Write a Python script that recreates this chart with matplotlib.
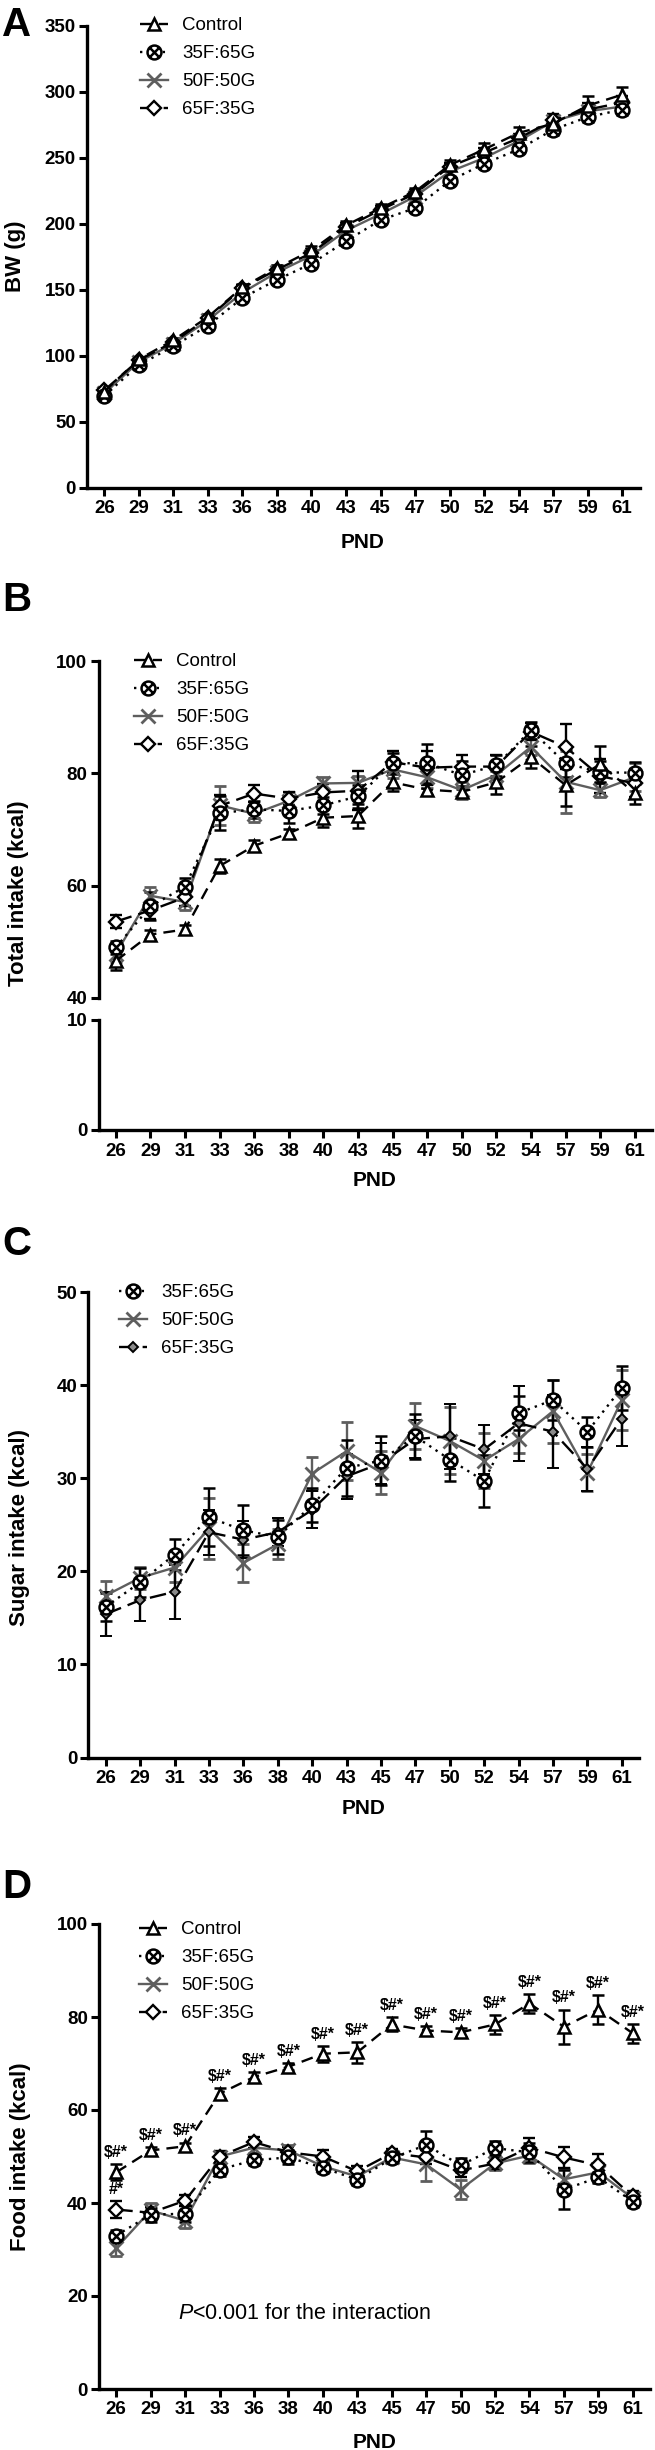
import numpy as np
import matplotlib
matplotlib.use('Agg')
import matplotlib.pyplot as plt
from matplotlib.path import Path
from matplotlib.lines import Line2D

plt.rcParams['font.family'] = ['Liberation Sans', 'DejaVu Sans']
plt.rcParams['mathtext.fontset'] = 'custom'
plt.rcParams['mathtext.it'] = 'Liberation Sans:italic'
plt.rcParams['mathtext.rm'] = 'Liberation Sans'

# ---------------- data ----------------
pnd = ['26', '29', '31', '33', '36', '38', '40', '43', '45', '47', '50', '52', '54', '57', '59', '61']
groups = ['Control', '35F:65G', '50F:50G', '65F:35G']

# A: body weight (g)
bw_ctrl = [73, 97.5, 112, 129.5, 152, 166.7, 180, 199, 212, 224.5, 244.6, 256.5, 269, 276, 289.7, 298]
bw_35 = [70, 93, 107.4, 123, 144, 157.7, 170, 187, 203, 212, 232.6, 245.7, 256.5, 271.5, 281, 286.7]
bw_50 = [71.7, 95.5, 109.4, 127, 148, 163.4, 176, 195, 207.5, 220.8, 239.6, 250, 262.8, 277.8, 285.4, 289]
bw_65 = [74, 96.8, 110.6, 128.7, 151.4, 165.5, 178, 197.4, 210.7, 223, 243.4, 254, 265, 278.6, 286.7, 292]
e_bw_ctrl = [2, 2, 2, 2.5, 2.5, 2.5, 3, 3, 3, 3, 3.8, 4.5, 4.3, 4.5, 7, 5.8]
e_bw_35 = [2, 2, 2, 2.5, 2.5, 2.5, 3, 3, 3, 3, 3, 3, 3, 4, 4, 4.5]
e_bw_50 = [2, 2, 2, 2.5, 2.5, 2.5, 3, 3, 3, 3, 3, 3.5, 3.5, 4, 4, 4]
e_bw_65 = [2, 2, 2, 2.5, 2.5, 2.5, 3, 3, 3, 3, 3, 3.5, 3.5, 5, 5, 5]

# D: food intake (kcal)
food_ctrl = [46.6, 51.3, 52.2, 63.5, 67.1, 69.3, 72.1, 72.4, 78.4, 77.1, 76.7, 78.4, 82.9, 77.9, 81.6, 76.5]
food_35 = [33.0, 37.5, 37.7, 47.2, 49.2, 49.8, 47.6, 45.0, 49.6, 52.5, 48.1, 51.8, 50.9, 42.9, 45.5, 40.3]
food_50 = [30.3, 38.4, 36.2, 50.0, 51.9, 51.3, 47.9, 45.7, 49.8, 48.3, 42.9, 48.5, 50.2, 45.1, 46.6, 41.0]
food_65 = [38.6, 37.9, 40.5, 50.0, 53.1, 50.9, 50.0, 46.8, 50.7, 49.8, 47.0, 48.5, 51.9, 49.8, 48.1, 41.4]
e_food_ctrl = [1.7, 0.8, 0.8, 1.2, 1.0, 0.8, 1.7, 2.2, 1.5, 1.0, 1.0, 2.1, 2.0, 3.7, 3.2, 2.0]
e_food_35 = [1.2, 1.5, 1.8, 1.5, 1.0, 1.5, 1.2, 1.2, 1.0, 3.0, 1.5, 1.5, 2.0, 4.2, 1.2, 1.2]
e_food_50 = [1.8, 1.5, 1.5, 1.2, 1.2, 1.2, 1.2, 1.2, 1.2, 3.5, 2.0, 1.5, 1.5, 2.5, 2.0, 1.2]
e_food_65 = [1.8, 1.2, 1.2, 1.2, 1.2, 1.2, 1.5, 1.2, 1.0, 1.5, 1.5, 1.2, 2.0, 2.2, 2.5, 1.2]
sig_ctrl = ['$#*'] * 16
sig_65 = ['#*'] + [''] * 15
p_text = r'$P$<0.001 for the interaction'

# B: total intake (kcal)
tot_ctrl = food_ctrl
tot_35 = [49.0, 56.3, 59.8, 72.9, 73.6, 73.3, 74.3, 75.9, 81.8, 81.8, 79.7, 81.4, 87.7, 81.8, 80.2, 80.1]
tot_50 = [47.9, 58.2, 57.1, 74.3, 72.8, 75.1, 78.2, 78.3, 80.7, 79.3, 77.0, 79.7, 84.7, 78.5, 77.0, 79.3]
tot_65 = [53.6, 55.6, 57.9, 74.2, 76.4, 75.5, 76.6, 76.9, 82.0, 81.0, 81.2, 81.2, 87.4, 84.7, 79.5, 78.2]
e_tot_ctrl = e_food_ctrl
e_tot_35 = [1.2, 2.5, 1.5, 3.0, 1.5, 2.2, 1.5, 2.0, 1.8, 3.5, 2.5, 1.8, 1.5, 2.5, 2.0, 2.0]
e_tot_50 = [1.5, 1.5, 1.5, 3.5, 1.5, 1.5, 1.2, 1.3, 1.5, 2.0, 1.5, 1.5, 1.5, 5.5, 1.2, 2.5]
e_tot_65 = [1.2, 1.5, 1.5, 2.0, 1.5, 1.2, 1.5, 3.5, 2.0, 3.0, 2.0, 2.0, 1.5, 4.0, 3.0, 2.5]

# C: sugar intake (kcal)
sug_35 = [16.2, 18.8, 21.8, 25.8, 24.4, 23.7, 27.1, 31.1, 31.9, 34.5, 32.0, 29.7, 37.0, 38.4, 35.0, 39.7]
sug_50 = [17.4, 19.3, 20.4, 24.6, 20.9, 22.9, 30.5, 32.9, 30.6, 35.6, 34.0, 31.9, 34.2, 37.2, 30.6, 38.4]
sug_65 = [15.4, 16.9, 17.8, 24.2, 23.4, 24.2, 26.6, 30.2, 31.6, 34.2, 34.5, 33.1, 35.9, 35.0, 31.0, 36.4]
e_sug_35 = [1.5, 1.6, 1.7, 3.1, 2.7, 1.8, 1.8, 3.0, 2.6, 2.4, 2.3, 2.8, 1.8, 2.1, 1.6, 2.4]
e_sug_50 = [1.6, 1.2, 1.6, 3.3, 2.0, 1.6, 1.8, 3.1, 2.3, 2.5, 3.6, 3.0, 1.5, 3.4, 2.0, 3.2]
e_sug_65 = [2.4, 2.2, 2.9, 2.4, 2.0, 1.5, 2.0, 2.4, 2.2, 2.0, 3.5, 2.6, 4.0, 3.9, 2.4, 2.9]

# ---------------- styles ----------------
circ = Path.unit_circle()
d = 0.7071
circx = Path(np.vstack([circ.vertices, [[-d, -d], [d, d], [-d, d], [d, -d]]]),
             np.concatenate([circ.codes, [Path.MOVETO, Path.LINETO, Path.MOVETO, Path.LINETO]]))
GRAY = '#5e5e5e'
styles = {
    'Control': dict(color='black', ls=(0, (5, 3)), marker='^', ms=8, mfc='white', mec='black', mew=1.8),
    '35F:65G': dict(color='black', ls=(0, (1, 2.2)), marker=circx, ms=10, mfc='white', mec='black', mew=1.8),
    '50F:50G': dict(color=GRAY, ls='-', marker='x', ms=9.5, mfc=GRAY, mec=GRAY, mew=2.0),
    '65F:35G': dict(color='black', ls=(0, (7, 3)), marker='D', ms=6.8, mfc='white', mec='black', mew=1.7),
}
style_c65 = dict(color='black', ls=(0, (7, 3)), marker='D', ms=5, mfc='#8a8a8a', mec='black', mew=1.4)

W, H = 655, 2450
fig = plt.figure(figsize=(W / 100, H / 100), dpi=100)


def add_ax(left, right, top, bottom):
    return fig.add_axes([left / W, 1 - bottom / H, (right - left) / W, (bottom - top) / H])


def style_ax(ax, yticks, xlabels=True):
    x = np.arange(len(pnd))
    ax.set_xlim(-0.5, len(pnd) - 0.5)
    for s in ['top', 'right']:
        ax.spines[s].set_visible(False)
    for s in ['left', 'bottom']:
        ax.spines[s].set_linewidth(2.4)
    ax.set_yticks(yticks)
    ax.set_yticklabels([str(t) for t in yticks], fontweight='bold', fontsize=13.5)
    ax.tick_params(axis='both', direction='out', length=6, width=2.2, pad=2)
    if xlabels:
        ax.set_xticks(x)
        ax.set_xticklabels(pnd, fontweight='bold', fontsize=13.5)
        ax.tick_params(axis='x', pad=3)
    else:
        ax.spines['bottom'].set_visible(False)
        ax.set_xticks([])


def plot_series(ax, y, e, st):
    x = np.arange(len(pnd))
    ax.errorbar(x, y, yerr=e, color=st['color'], ls=st['ls'], lw=1.7,
                marker=st['marker'], ms=st['ms'], mfc=st['mfc'], mec=st['mec'], mew=st['mew'],
                ecolor=st['color'], elinewidth=1.7, capsize=4.5, capthick=1.7)


def add_legend(ax, names, sts, left_px, top_px):
    handles = [Line2D([], [], color=s['color'], ls=s['ls'], lw=1.7, marker=s['marker'], ms=s['ms'],
                      mfc=s['mfc'], mec=s['mec'], mew=s['mew']) for s in sts]
    ax.legend(handles, names, loc='upper left', bbox_to_anchor=(left_px / W, 1 - top_px / H),
              bbox_transform=fig.transFigure, frameon=False, fontsize=13.5, handlelength=1.5,
              handletextpad=0.75, labelspacing=0.58, borderpad=0, borderaxespad=0, numpoints=1)


def panel_texts(letter, letter_base, ylab, ylab_x, ylab_y, xlab_x, xlab_base):
    fig.text(2 / W, 1 - letter_base / H, letter, fontsize=29, fontweight='bold', ha='left', va='baseline')
    fig.text(ylab_x / W, 1 - ylab_y / H, ylab, fontsize=16, fontweight='bold', rotation=90,
             ha='center', va='center')
    fig.text(xlab_x / W, 1 - xlab_base / H, 'PND', fontsize=15, fontweight='bold', ha='center', va='baseline')


# ---------------- Panel A ----------------
axA = add_ax(87, 639.5, 26, 488)
axA.set_ylim(0, 350)
style_ax(axA, [0, 50, 100, 150, 200, 250, 300, 350])
for y, e, g in [(bw_50, e_bw_50, '50F:50G'), (bw_65, e_bw_65, '65F:35G'),
                (bw_35, e_bw_35, '35F:65G'), (bw_ctrl, e_bw_ctrl, 'Control')]:
    plot_series(axA, y, e, styles[g])
add_legend(axA, groups, [styles[g] for g in groups], 140, 17)
panel_texts('A', 36, 'BW (g)', 15, 256, 363, 548)

# ---------------- Panel B (broken axis) ----------------
axB1 = add_ax(98.5, 652, 661, 998)
axB1.set_ylim(40, 100)
style_ax(axB1, [40, 60, 80, 100], xlabels=False)
axB2 = add_ax(98.5, 652, 1020, 1130)
axB2.set_ylim(0, 10)
style_ax(axB2, [0, 10])
for y, e, g in [(tot_50, e_tot_50, '50F:50G'), (tot_65, e_tot_65, '65F:35G'),
                (tot_35, e_tot_35, '35F:65G'), (tot_ctrl, e_tot_ctrl, 'Control')]:
    plot_series(axB1, y, e, styles[g])
add_legend(axB1, groups, [styles[g] for g in groups], 134, 653)
panel_texts('B', 611, 'Total intake (kcal)', 19, 893, 375, 1186)

# ---------------- Panel C ----------------
axC = add_ax(88.5, 639, 1292, 1757.5)
axC.set_ylim(0, 50)
style_ax(axC, [0, 10, 20, 30, 40, 50])
for y, e, st in [(sug_50, e_sug_50, styles['50F:50G']), (sug_65, e_sug_65, style_c65),
                 (sug_35, e_sug_35, styles['35F:65G'])]:
    plot_series(axC, y, e, st)
add_legend(axC, groups[1:], [styles['35F:65G'], styles['50F:50G'], style_c65], 119, 1284)
panel_texts('C', 1255, 'Sugar intake (kcal)', 20, 1528, 364, 1814)

# ---------------- Panel D ----------------
axD = add_ax(99, 650, 1924, 2389)
axD.set_ylim(0, 100)
style_ax(axD, [0, 20, 40, 60, 80, 100])
for y, e, g in [(food_50, e_food_50, '50F:50G'), (food_65, e_food_65, '65F:35G'),
                (food_35, e_food_35, '35F:65G'), (food_ctrl, e_food_ctrl, 'Control')]:
    plot_series(axD, y, e, styles[g])
for i in range(len(pnd)):
    if sig_ctrl[i]:
        axD.annotate(sig_ctrl[i], (i, food_ctrl[i] + e_food_ctrl[i]), xytext=(0, 3),
                     textcoords='offset points', ha='center', va='bottom', fontsize=11.5, fontweight='bold')
    if sig_65[i]:
        axD.annotate(sig_65[i], (i, food_65[i] + e_food_65[i]), xytext=(0, 3),
                     textcoords='offset points', ha='center', va='bottom', fontsize=11.5, fontweight='bold')
axD.text(1.78, 16.3, p_text, fontsize=15.5, ha='left', va='center')
add_legend(axD, groups, [styles[g] for g in groups], 139, 1921)
panel_texts('D', 1898, 'Food intake (kcal)', 21, 2157, 374.5, 2448)

fig.savefig('out.png', dpi=100)
